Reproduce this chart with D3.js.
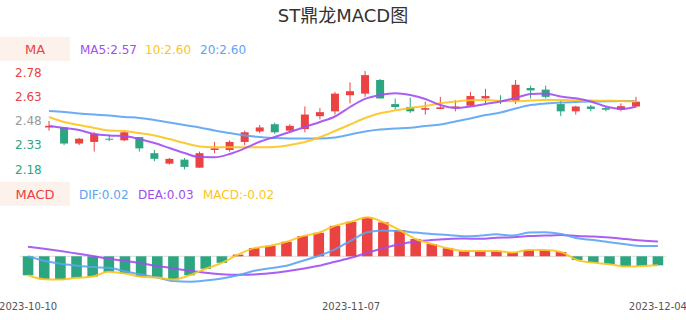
<!DOCTYPE html>
<html>
<head>
<meta charset="utf-8">
<script src="https://cdn.jsdelivr.net/npm/d3@7"></script>
<style>
  body { margin: 0; background: #fff; }
  svg { font-family: "DejaVu Sans", "Noto Sans CJK SC", sans-serif; }
</style>
</head>
<body>
<div id="chart"></div>
<script>
// 日期
var dates = ["2023-10-10","2023-10-11","2023-10-12","2023-10-13","2023-10-16","2023-10-17","2023-10-18","2023-10-19","2023-10-20","2023-10-23",
  "2023-10-24","2023-10-25","2023-10-26","2023-10-27","2023-10-30","2023-10-31","2023-11-01","2023-11-02","2023-11-03","2023-11-06",
  "2023-11-07","2023-11-08","2023-11-09","2023-11-10","2023-11-13","2023-11-14","2023-11-15","2023-11-16","2023-11-17","2023-11-20",
  "2023-11-21","2023-11-22","2023-11-23","2023-11-24","2023-11-27","2023-11-28","2023-11-29","2023-11-30","2023-12-01","2023-12-04"];
var xTickLabels = ["2023-10-10", "2023-11-07", "2023-12-04"];

// K线 开 收 高 低
var open  = [2.44,2.44,2.34,2.35,2.37,2.36,2.38,2.28,2.215,2.24,2.19,2.30,2.30,2.35,2.415,2.46,2.42,2.43,2.51,2.54,
             2.64,2.65,2.735,2.585,2.567,2.55,2.555,2.56,2.575,2.62,2.61,2.605,2.685,2.675,2.585,2.54,2.57,2.56,2.55,2.57];
var close = [2.45,2.34,2.37,2.40,2.365,2.41,2.31,2.245,2.245,2.195,2.28,2.31,2.35,2.41,2.44,2.41,2.45,2.52,2.535,2.65,
             2.665,2.765,2.62,2.567,2.54,2.56,2.565,2.57,2.635,2.635,2.605,2.705,2.67,2.63,2.54,2.57,2.555,2.55,2.572,2.60];
var high  = [2.48,2.44,2.375,2.41,2.395,2.42,2.38,2.30,2.25,2.25,2.29,2.35,2.36,2.42,2.455,2.47,2.46,2.57,2.56,2.66,
             2.72,2.79,2.74,2.62,2.625,2.60,2.63,2.61,2.66,2.68,2.64,2.735,2.70,2.70,2.605,2.575,2.58,2.57,2.59,2.63];
var low   = [2.42,2.33,2.33,2.29,2.355,2.355,2.29,2.23,2.21,2.18,2.19,2.28,2.29,2.33,2.405,2.40,2.41,2.41,2.49,2.52,
             2.59,2.63,2.62,2.55,2.53,2.52,2.555,2.54,2.57,2.59,2.585,2.585,2.62,2.62,2.51,2.52,2.54,2.54,2.54,2.565];

// 均线
var ma5  = [2.449,2.437,2.424,2.399,2.390,2.387,2.368,2.343,2.312,2.281,2.256,2.255,2.275,2.310,2.351,2.381,2.412,2.443,2.474,2.508,
            2.567,2.617,2.641,2.652,2.641,2.617,2.579,2.561,2.570,2.586,2.601,2.623,2.648,2.651,2.632,2.621,2.601,2.570,2.555,2.569];
var ma10 = [2.505,2.474,2.455,2.437,2.421,2.418,2.405,2.390,2.368,2.343,2.322,2.317,2.317,2.317,2.317,2.319,2.331,2.350,2.379,2.418,
            2.458,2.499,2.528,2.546,2.561,2.573,2.590,2.601,2.609,2.610,2.605,2.602,2.607,2.610,2.610,2.609,2.607,2.606,2.604,2.601];
var ma20 = [2.542,2.536,2.527,2.520,2.514,2.505,2.499,2.486,2.471,2.455,2.440,2.421,2.405,2.390,2.381,2.374,2.371,2.371,2.371,2.378,
            2.396,2.415,2.427,2.433,2.438,2.449,2.458,2.477,2.496,2.517,2.533,2.558,2.579,2.589,2.595,2.598,2.601,2.602,2.604,2.604];
var priceTicks = [2.78, 2.63, 2.48, 2.33, 2.18];

// MACD
var dif  = [0.0000,-0.0092,-0.0153,-0.0190,-0.0220,-0.0235,-0.0306,-0.0373,-0.0433,-0.0506,-0.0520,-0.0496,-0.0455,-0.0388,-0.0296,-0.0245,-0.0194,-0.0092,0.0010,0.0143,
            0.0320,0.0490,0.0524,0.0516,0.0484,0.0455,0.0435,0.0408,0.0422,0.0449,0.0422,0.0484,0.0490,0.0455,0.0367,0.0333,0.0286,0.0245,0.0210,0.0210];
var dea  = [0.0194,0.0153,0.0108,0.0057,0.0006,-0.0051,-0.0092,-0.0143,-0.0198,-0.0245,-0.0296,-0.0337,-0.0367,-0.0378,-0.0373,-0.0347,-0.0306,-0.0255,-0.0194,-0.0112,
            -0.0031,0.0071,0.0163,0.0245,0.0300,0.0333,0.0353,0.0363,0.0357,0.0378,0.0388,0.0412,0.0422,0.0433,0.0414,0.0402,0.0382,0.0353,0.0320,0.0300];
var macd = [-0.0388,-0.0469,-0.0476,-0.0439,-0.0412,-0.0316,-0.0351,-0.0418,-0.0433,-0.0473,-0.0388,-0.0255,-0.0133,0.0035,0.0167,0.0214,0.0296,0.0412,0.0480,0.0622,
            0.0704,0.0796,0.0694,0.0537,0.0353,0.0251,0.0163,0.0108,0.0108,0.0108,0.0076,0.0129,0.0129,0.0088,-0.0076,-0.0129,-0.0163,-0.0210,-0.0198,-0.0184];

var RED = "#eb4242", GREEN = "#2ca581", PURPLE = "#a24df2", YELLOW = "#fcc41e", BLUE = "#5aa4f3";

var svg = d3.select("#chart").append("svg")
    .attr("width", 686)
    .attr("height", 320);

// 标题
svg.append("text")
    .attr("x", 343)
    .attr("y", 22)
    .attr("text-anchor", "middle")
    .style("font-size", "18px")
    .attr("fill", "#333")
    .text("ST鼎龙MACD图");

// 图例
function legend(y, name, items) {
  svg.append("rect").attr("x", 0).attr("y", y).attr("width", 70).attr("height", 24).attr("fill", "#fdf1ec");
  svg.append("text").attr("x", 35).attr("y", y + 16.5).attr("text-anchor", "middle")
    .style("font-size", "13px").attr("fill", RED).text(name);
  items.forEach(function (it) {
    svg.append("text").attr("x", it[0]).attr("y", y + 16.5)
      .style("font-size", "12px").attr("fill", it[2]).text(it[1]);
  });
}
legend(37, "MA", [[80, "MA5:2.57", PURPLE], [145, "10:2.60", YELLOW], [200, "20:2.60", BLUE]]);
legend(182, "MACD", [[79, "DIF:0.02", BLUE], [138, "DEA:0.03", PURPLE], [203, "MACD:-0.02", YELLOW]]);

// K线区
var xK = d3.scaleBand().domain(dates).range([41.5, 643.5]);
var yK = d3.scaleLinear().domain([2.18, 2.78]).range([169.3, 72.7]);
var cx = function (i) { return xK(dates[i]) + xK.bandwidth() / 2; };

svg.selectAll(".ptick").data(priceTicks).enter().append("text")
    .attr("class", "ptick")
    .attr("x", 15)
    .attr("y", function (d) { return yK(d); })
    .attr("dy", "0.36em")
    .style("font-size", "12px")
    .attr("fill", function (d) { return d > 2.48 ? RED : (d < 2.48 ? GREEN : "#999"); })
    .text(function (d) { return d.toFixed(2); });

var candles = svg.append("g").selectAll("g").data(dates).enter().append("g");
candles.append("line")
    .attr("x1", function (d, i) { return cx(i); })
    .attr("x2", function (d, i) { return cx(i); })
    .attr("y1", function (d, i) { return yK(high[i]); })
    .attr("y2", function (d, i) { return yK(low[i]); })
    .attr("stroke", function (d, i) { return close[i] >= open[i] ? RED : GREEN; })
    .attr("stroke-width", 1);
candles.append("rect")
    .attr("x", function (d, i) { return cx(i) - 4; })
    .attr("width", 8)
    .attr("y", function (d, i) { return yK(Math.max(open[i], close[i])); })
    .attr("height", function (d, i) { return Math.max(1, Math.abs(yK(open[i]) - yK(close[i]))); })
    .attr("fill", function (d, i) { return close[i] >= open[i] ? RED : GREEN; });

var maLine = d3.line()
    .x(function (d, i) { return cx(i); })
    .y(function (d) { return yK(d); })
    .curve(d3.curveMonotoneX);
[[ma20, BLUE], [ma10, YELLOW], [ma5, PURPLE]].forEach(function (m) {
  svg.append("path").attr("d", maLine(m[0])).attr("fill", "none")
    .attr("stroke", m[1]).attr("stroke-width", 2).attr("stroke-opacity", 0.9);
});

// MACD区
var xM = d3.scaleBand().domain(dates).range([20, 666]);
var yM = d3.scaleLinear().domain([-0.06, 0.1]).range([285.7, 207.3]);
var mx = function (i) { return xM(dates[i]) + xM.bandwidth() / 2; };

svg.append("line").attr("x1", 20).attr("x2", 666)
    .attr("y1", yM(0)).attr("y2", yM(0)).attr("stroke", "#ddd");

svg.selectAll(".mbar").data(macd).enter().append("rect")
    .attr("class", "mbar")
    .attr("x", function (d, i) { return mx(i) - 5.3; })
    .attr("width", 10.6)
    .attr("y", function (d) { return yM(Math.max(0, d)); })
    .attr("height", function (d) { return Math.abs(yM(d) - yM(0)); })
    .attr("fill", function (d) { return d >= 0 ? RED : GREEN; });

var mLine = d3.line()
    .x(function (d, i) { return mx(i); })
    .y(function (d) { return yM(d); })
    .curve(d3.curveMonotoneX);
[[dea, PURPLE], [dif, BLUE], [macd, YELLOW]].forEach(function (m) {
  svg.append("path").attr("d", mLine(m[0])).attr("fill", "none")
    .attr("stroke", m[1]).attr("stroke-width", 2).attr("stroke-opacity", 0.9);
});

// x轴标签
svg.selectAll(".xtick").data(xTickLabels).enter().append("text")
    .attr("class", "xtick")
    .attr("x", function (d) { return mx(dates.indexOf(d)); })
    .attr("y", 310)
    .attr("text-anchor", "middle")
    .style("font-size", "10px")
    .attr("fill", "#555")
    .text(function (d) { return d; });
</script>
</body>
</html>
